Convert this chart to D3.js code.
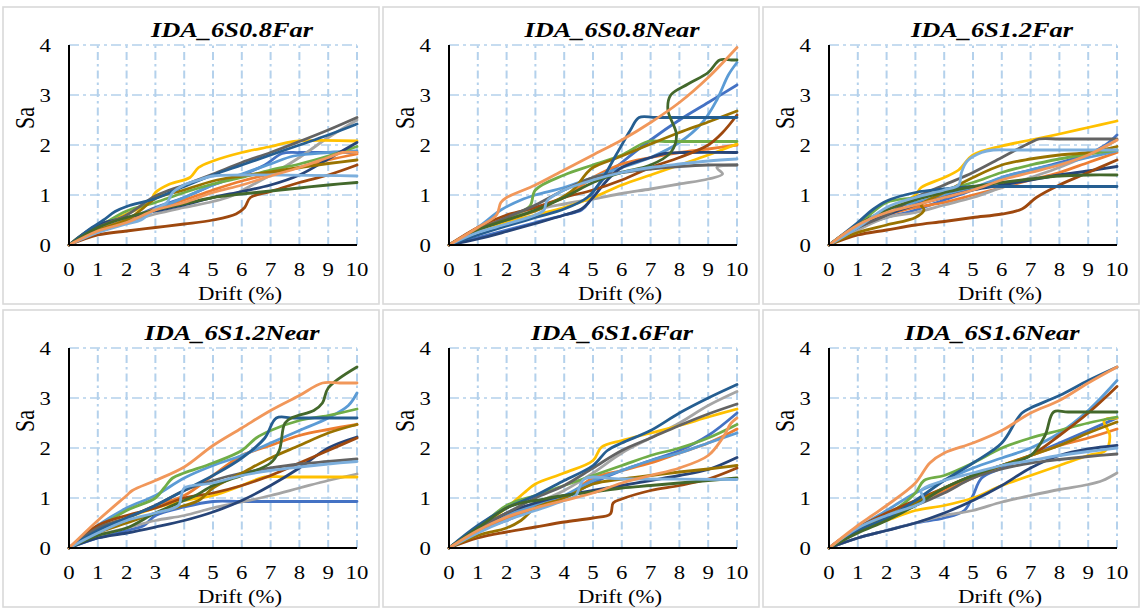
<!DOCTYPE html>
<html><head><meta charset="utf-8">
<script src="https://cdn.jsdelivr.net/npm/d3@7"></script>
<style>html,body{margin:0;padding:0;background:#fff;}svg{display:block;}</style>
</head><body>
<svg id="chart" width="1142" height="609"></svg>
<script>
// ---------- data ----------
const panelTitles = ["IDA_6S0.8Far","IDA_6S0.8Near","IDA_6S1.2Far","IDA_6S1.2Near","IDA_6S1.6Far","IDA_6S1.6Near"];
const seriesNames = ["GM1","GM2","GM3","GM4","GM5","GM6","GM7","GM8","GM9","GM10","GM11","GM12","GM13","GM14"];
const xTicks = [0,1,2,3,4,5,6,7,8,9,10];
const yTicks = [0,1,2,3,4];
const xLabel = "Drift (%)";
const yLabel = "Sa";

// each panel: one [drift, Sa] list per series, in seriesNames order
const ida6S08Far = [
 [[0,0],[1,0.3],[2,0.5],[3,0.75],[4,0.95],[5,1.2],[6,1.4],[6.8,1.6],[7.4,1.83],[8,1.85],[10,1.85]],
 [[0,0],[1,0.3],[2,0.5],[3,0.72],[4,0.9],[5,1.1],[6,1.28],[7,1.42],[8,1.55],[9,1.7],[10,1.82]],
 [[0,0],[1,0.25],[2,0.45],[3,0.62],[4,0.75],[5,0.87],[5.6,0.97],[6.2,1.15],[7,1.4],[8,1.75],[9,2.15],[10,2.5]],
 [[0,0],[0.5,0.22],[1,0.38],[2,0.62],[2.8,0.85],[3,1.05],[3.5,1.22],[4.2,1.35],[4.5,1.55],[5,1.68],[6,1.85],[7,1.97],[7.8,2.07],[10,2.08]],
 [[0,0],[1,0.28],[2,0.45],[3,0.7],[4,0.95],[5,1.2],[6,1.42],[7,1.62],[7.8,1.78],[9,1.85],[10,1.88]],
 [[0,0],[1,0.35],[2,0.68],[3,0.85],[4,1.05],[5,1.22],[6,1.35],[7,1.5],[8,1.62],[9,1.78],[10,1.97]],
 [[0,0],[1,0.4],[2,0.55],[3,0.68],[4,0.8],[5,0.95],[6,1.07],[7,1.2],[8,1.4],[9,1.72],[10,2.05]],
 [[0,0],[1,0.2],[2,0.28],[3,0.35],[4,0.42],[5,0.5],[5.8,0.62],[6.1,0.75],[6.3,0.95],[7,1.07],[8,1.25],[9,1.4],[10,1.6]],
 [[0,0],[1,0.35],[2,0.6],[3,0.98],[4,1.2],[5,1.42],[6,1.65],[7,1.85],[8,2.07],[9,2.3],[10,2.55]],
 [[0,0],[1,0.3],[2,0.5],[2.5,0.7],[3,0.93],[4,1.1],[5,1.28],[6,1.38],[7,1.46],[8,1.55],[9,1.63],[10,1.7]],
 [[0,0],[0.8,0.35],[1.2,0.5],[1.6,0.67],[2,0.77],[3,0.93],[4,1.17],[5,1.4],[6,1.6],[7,1.8],[8,2.0],[9,2.2],[10,2.42]],
 [[0,0],[1,0.35],[2,0.55],[3,0.7],[4,0.82],[5,0.95],[6,1.02],[7,1.08],[8,1.14],[9,1.2],[10,1.25]],
 [[0,0],[1,0.25],[2,0.42],[2.5,0.5],[3,0.72],[3.4,0.85],[3.6,1.05],[4,1.2],[4.5,1.3],[5,1.38],[6,1.4],[10,1.38]],
 [[0,0],[1,0.28],[2,0.45],[3,0.7],[4,0.85],[5,1.05],[6,1.2],[7,1.38],[8,1.55],[9,1.75],[9.5,1.85],[10,1.85]]
];
const ida6S08Near = [
 [[0,0],[1,0.15],[2,0.3],[3,0.45],[4,0.6],[4.6,0.7],[4.85,0.85],[5,1.05],[5.5,1.4],[6,1.65],[7,2.1],[8,2.5],[9,2.85],[10,3.2]],
 [[0,0],[1,0.3],[2,0.55],[3,0.75],[4,0.95],[5,1.35],[6,1.62],[7,1.75],[8,1.85],[9,1.92],[10,2.0]],
 [[0,0],[1,0.3],[2,0.5],[3,0.7],[4,0.82],[5,0.92],[6,1.03],[7,1.12],[8,1.22],[9,1.32],[9.5,1.42],[9.3,1.55],[10,1.6]],
 [[0,0],[1,0.28],[2,0.45],[3,0.6],[4,0.75],[5,0.95],[6,1.2],[7,1.4],[8,1.6],[9,1.8],[10,2.02]],
 [[0,0],[1,0.35],[1.8,0.7],[2.5,0.9],[3,1.0],[4,1.15],[5,1.35],[6,1.55],[7,1.75],[8,2.05],[8.8,2.45],[9.3,2.9],[9.7,3.4],[10,3.65]],
 [[0,0],[1,0.3],[2,0.55],[2.8,0.77],[3,1.1],[4,1.4],[5,1.6],[6,1.8],[6.9,2.07],[7.5,2.07],[10,2.07]],
 [[0,0],[1,0.12],[2,0.27],[3,0.43],[4,0.6],[4.6,0.72],[5,0.95],[5.5,1.3],[6,1.55],[7,1.75],[7.5,1.83],[8.2,1.85],[10,1.85]],
 [[0,0],[1,0.35],[2,0.6],[3,0.75],[4,0.95],[5,1.1],[6,1.3],[7,1.55],[8,1.75],[9,2.0],[9.5,2.25],[10,2.6]],
 [[0,0],[1,0.3],[2,0.55],[3,0.8],[4,1.1],[5,1.35],[6,1.45],[7,1.52],[8,1.57],[9,1.6],[10,1.6]],
 [[0,0],[1,0.3],[2,0.5],[3,0.68],[3.5,0.82],[4.3,1.1],[4.8,1.45],[5,1.55],[6,1.78],[7,2.02],[8,2.25],[9,2.46],[10,2.68]],
 [[0,0],[1,0.2],[2,0.38],[3,0.55],[4,0.72],[4.8,0.95],[5.3,1.3],[5.8,1.8],[6.3,2.3],[6.6,2.55],[7.2,2.55],[10,2.55]],
 [[0,0],[1,0.3],[2,0.5],[3,0.7],[4,0.95],[5,1.25],[6,1.45],[7,1.6],[7.7,1.85],[7.9,2.2],[7.6,2.7],[7.7,3.0],[8.3,3.22],[9,3.45],[9.4,3.7],[9.8,3.7],[10,3.7]],
 [[0,0],[1,0.25],[2,0.42],[3,0.6],[3.3,0.7],[3.4,0.88],[4,1.1],[5,1.3],[6,1.45],[7,1.55],[8,1.62],[9,1.68],[10,1.72]],
 [[0,0],[1,0.35],[1.65,0.6],[1.8,0.85],[2,0.95],[3,1.2],[4,1.5],[5,1.8],[6,2.1],[7,2.45],[8,2.85],[9,3.35],[10,3.95]]
];
const ida6S12Far = [
 [[0,0],[1,0.35],[2,0.55],[3,0.7],[4,0.9],[5,1.1],[6,1.35],[7,1.5],[8,1.65],[9,1.82],[9.6,2.0],[10,2.2]],
 [[0,0],[1,0.38],[2,0.6],[3,0.75],[4,0.85],[5,1.0],[6,1.15],[7,1.3],[8,1.45],[9,1.65],[10,1.85]],
 [[0,0],[1,0.3],[2,0.55],[3,0.65],[4,0.8],[5,0.95],[6,1.15],[7,1.35],[8,1.55],[9,1.8],[10,2.1]],
 [[0,0],[1,0.4],[2,0.7],[3,1.0],[3.2,1.15],[4,1.35],[4.5,1.5],[5,1.8],[6,1.98],[7,2.1],[8,2.22],[9,2.35],[10,2.48]],
 [[0,0],[1,0.4],[2,0.7],[3,0.85],[4,1.0],[5,1.15],[6,1.35],[7,1.5],[8,1.62],[9,1.75],[10,1.88]],
 [[0,0],[1,0.4],[2,0.85],[3,0.95],[4,1.1],[5,1.25],[6,1.45],[7,1.6],[8,1.72],[9,1.82],[10,1.9]],
 [[0,0],[1,0.35],[2,0.6],[3,0.8],[4,0.95],[5,1.1],[6,1.2],[7,1.3],[8,1.4],[9,1.48],[10,1.57]],
 [[0,0],[1,0.2],[2,0.3],[3,0.4],[4,0.47],[5,0.55],[6,0.62],[6.7,0.72],[7.2,0.95],[8,1.2],[9,1.45],[10,1.7]],
 [[0,0],[1,0.35],[2,0.6],[3,0.95],[4,1.2],[5,1.45],[6,1.75],[7,2.05],[7.3,2.12],[8,2.12],[10,2.12]],
 [[0,0],[1,0.25],[2,0.4],[3,0.55],[3.3,0.7],[3.2,0.8],[4,1.05],[5,1.35],[6,1.6],[7,1.72],[8,1.8],[9,1.85],[10,1.97]],
 [[0,0],[1,0.45],[1.5,0.7],[2,0.88],[3,1.05],[4,1.12],[5,1.17],[6,1.17],[10,1.17]],
 [[0,0],[1,0.4],[2,0.7],[3,0.9],[4,1.05],[5,1.17],[6,1.25],[7,1.32],[8,1.38],[9,1.4],[10,1.4]],
 [[0,0],[1,0.35],[2,0.75],[3,0.95],[4,1.1],[4.5,1.2],[4.6,1.45],[4.8,1.68],[5.3,1.85],[5.7,1.9],[6.5,1.9],[10,1.9]],
 [[0,0],[1,0.4],[2,0.65],[3,0.8],[4,0.95],[5,1.1],[6,1.3],[7,1.45],[8,1.6],[9,1.8],[10,2.1]]
];
const ida6S12Near = [
 [[0,0],[1,0.2],[2,0.35],[2.6,0.45],[3,0.65],[4,0.82],[5,0.93],[6,0.93],[10,0.93]],
 [[0,0],[1,0.4],[2,0.6],[3,0.85],[4,1.05],[5,1.45],[6,1.85],[7,2.05],[8,2.25],[9,2.37],[10,2.47]],
 [[0,0],[1,0.25],[2,0.4],[3,0.55],[4,0.65],[5,0.8],[6,0.92],[7,1.05],[8,1.2],[9,1.35],[10,1.48]],
 [[0,0],[1,0.35],[2,0.6],[3,0.8],[4,0.95],[5,1.05],[6,1.25],[6.8,1.42],[7.5,1.42],[10,1.42]],
 [[0,0],[1,0.45],[2,0.8],[3,1.05],[4,1.4],[5,1.65],[6,1.85],[7,2.1],[8,2.35],[9,2.6],[9.7,2.85],[10,3.1]],
 [[0,0],[1,0.4],[2,0.75],[3,1.0],[3.3,1.2],[3.6,1.4],[4,1.5],[5,1.7],[6,1.95],[6.5,2.2],[7,2.35],[8,2.55],[9,2.65],[10,2.78]],
 [[0,0],[1,0.2],[2,0.3],[3,0.42],[4,0.55],[5,0.72],[6,0.95],[7,1.25],[8,1.6],[9,2.0],[10,2.22]],
 [[0,0],[1,0.45],[2,0.65],[3,0.8],[4,1.0],[5,1.1],[6,1.25],[7,1.45],[8,1.7],[9,1.95],[10,2.2]],
 [[0,0],[1,0.4],[2,0.6],[3,0.85],[4,1.15],[5,1.35],[6,1.5],[7,1.6],[8,1.68],[9,1.73],[10,1.78]],
 [[0,0],[1,0.3],[2,0.5],[3,0.7],[4,0.85],[4.5,0.95],[5,1.2],[6,1.5],[7,1.8],[8,2.05],[9,2.3],[10,2.47]],
 [[0,0],[1,0.35],[2,0.6],[3,0.85],[4,1.15],[5,1.45],[6,1.8],[6.8,2.2],[7.2,2.6],[7.8,2.6],[10,2.6]],
 [[0,0],[1,0.25],[2,0.4],[3,0.7],[4,0.95],[4.4,1.05],[5,1.25],[6,1.45],[7,1.7],[7.3,1.95],[7.5,2.5],[7.8,2.62],[8.5,2.75],[8.8,2.9],[9,3.2],[10,3.62]],
 [[0,0],[1,0.3],[2,0.55],[3,0.7],[3.8,0.85],[3.9,1.05],[4,1.2],[5,1.3],[6,1.45],[7,1.55],[8,1.62],[9,1.68],[10,1.73]],
 [[0,0],[1,0.55],[2,1.05],[2.2,1.15],[3,1.35],[4,1.62],[5,2.05],[6,2.4],[7,2.75],[8,3.05],[8.8,3.3],[9.4,3.3],[10,3.3]]
];
const ida6S16Far = [
 [[0,0],[1,0.35],[2,0.55],[3,0.8],[4,1.0],[5,1.3],[6,1.55],[7,1.75],[8,1.95],[9,2.25],[10,2.7]],
 [[0,0],[1,0.35],[2,0.6],[3,0.8],[4,1.0],[5,1.4],[6,1.55],[7,1.7],[8,1.9],[9,2.1],[10,2.38]],
 [[0,0],[1,0.4],[2,0.7],[3,0.9],[4,1.15],[5,1.5],[6,1.9],[7,2.2],[8,2.5],[9,2.85],[10,3.13]],
 [[0,0],[1,0.4],[2,0.8],[2.6,1.1],[3,1.28],[4,1.5],[5,1.75],[5.3,2.02],[6,2.15],[7,2.3],[8,2.45],[9,2.62],[10,2.78]],
 [[0,0],[1,0.4],[2,0.65],[3,0.85],[4,1.05],[5,1.35],[6,1.55],[7,1.75],[8,1.9],[9,2.1],[10,2.3]],
 [[0,0],[1,0.4],[2,0.85],[3,1.05],[4,1.25],[5,1.45],[6,1.65],[7,1.85],[8,2.0],[9,2.2],[10,2.47]],
 [[0,0],[1,0.35],[2,0.7],[3,0.9],[4,1.05],[5,1.15],[6,1.25],[7,1.35],[8,1.45],[9,1.57],[10,1.81]],
 [[0,0],[1,0.2],[2,0.32],[3,0.42],[4,0.52],[5,0.6],[5.6,0.68],[5.7,0.9],[6,0.98],[7,1.15],[8,1.25],[9,1.38],[10,1.6]],
 [[0,0],[1,0.4],[2,0.7],[3,1.0],[4,1.25],[5,1.6],[6,1.95],[7,2.2],[8,2.45],[9,2.68],[10,2.88]],
 [[0,0],[1,0.25],[2,0.4],[2.5,0.55],[3,0.8],[4,1.0],[5,1.28],[6,1.38],[7,1.45],[8,1.52],[9,1.58],[10,1.65]],
 [[0,0],[1,0.45],[2,0.8],[3,1.05],[4,1.35],[5,1.65],[5.5,1.95],[6,2.1],[7,2.35],[8,2.7],[9,3.0],[10,3.27]],
 [[0,0],[1,0.4],[2,0.8],[2.5,0.9],[3,0.95],[4,1.05],[5,1.12],[6,1.2],[7,1.25],[8,1.3],[9,1.35],[10,1.4]],
 [[0,0],[1,0.3],[2,0.55],[3,0.75],[4,0.95],[4.4,1.05],[4.7,1.38],[6,1.38],[10,1.37]],
 [[0,0],[1,0.35],[2,0.62],[3,0.8],[4,0.95],[5,1.1],[6,1.3],[7,1.45],[8,1.6],[9,1.85],[9.5,2.2],[9.8,2.5],[10,2.6]]
];
const ida6S16Near = [
 [[0,0],[1,0.2],[2,0.35],[3,0.5],[4,0.6],[4.7,0.75],[5,1.05],[5.3,1.4],[6,1.6],[7,1.85],[8,2.1],[9,2.35],[10,2.6]],
 [[0,0],[1,0.4],[2,0.65],[3,0.9],[4,1.15],[5,1.4],[6,1.65],[7,1.85],[8,2.05],[9,2.2],[10,2.38]],
 [[0,0],[1,0.2],[2,0.35],[3,0.5],[4,0.65],[5,0.75],[6,0.92],[7,1.05],[8,1.17],[9,1.27],[9.5,1.35],[10,1.5]],
 [[0,0],[1,0.35],[2,0.55],[3,0.75],[4,0.85],[5,1.0],[6,1.25],[7,1.45],[8,1.65],[9,1.85],[9.6,1.95],[9.75,2.25],[9.55,2.55],[10,2.6]],
 [[0,0],[1,0.4],[2,0.75],[3,1.1],[4,1.35],[5,1.6],[6,1.8],[7,2.0],[8,2.3],[9,2.75],[10,3.35]],
 [[0,0],[1,0.35],[2,0.65],[3,1.1],[3.3,1.35],[4,1.45],[5,1.7],[6,2.0],[7,2.2],[8,2.35],[9,2.5],[10,2.62]],
 [[0,0],[1,0.2],[2,0.35],[3,0.5],[4,0.7],[5,0.95],[6,1.25],[7,1.6],[8,1.85],[9,1.98],[10,2.05]],
 [[0,0],[1,0.4],[2,0.7],[3,0.95],[4,1.2],[5,1.45],[6,1.65],[7,1.85],[8,2.25],[9,2.7],[10,3.23]],
 [[0,0],[1,0.4],[2,0.65],[3,0.85],[4,1.1],[5,1.4],[6,1.58],[7,1.7],[8,1.77],[9,1.83],[10,1.88]],
 [[0,0],[1,0.35],[2,0.6],[3,0.9],[4,1.2],[5,1.45],[6,1.65],[7,1.85],[8,2.05],[9,2.3],[10,2.52]],
 [[0,0],[1,0.35],[2,0.6],[3,0.95],[4,1.35],[5,1.7],[6,2.1],[6.5,2.55],[6.7,2.7],[7,2.8],[8,3.05],[9,3.35],[10,3.62]],
 [[0,0],[1,0.3],[2,0.55],[3,0.85],[4,1.2],[5,1.45],[6,1.65],[7,1.85],[7.5,2.25],[7.8,2.72],[8.3,2.72],[10,2.72]],
 [[0,0],[1,0.4],[2,0.65],[3,0.85],[3.3,0.95],[3.2,1.15],[4,1.35],[5,1.5],[6,1.65],[7,1.75],[8,1.85],[9,1.93],[10,2.0]],
 [[0,0],[1,0.45],[1.5,0.65],[2,0.85],[3,1.3],[3.5,1.7],[4,1.9],[5,2.1],[6,2.35],[7,2.7],[8,2.95],[9,3.3],[10,3.62]]
];
const panelData = [ida6S08Far, ida6S08Near, ida6S12Far, ida6S12Near, ida6S16Far, ida6S16Near];

// ---------- style ----------
const palette = ["#4472C4","#ED7D31","#A5A5A5","#FFC000","#5B9BD5","#70AD47","#264478","#9E480E","#636363","#997300","#255E91","#43682B","#7CAFDD","#F1975A"];
const serif = "'Liberation Serif','Times New Roman',Times,serif";
const SX = 1.2; // horizontal stretch of the original picture

const svg = d3.select("#chart");
const colW = 380, rowH = 303;

panelData.forEach((series, i) => {
  const c = i % 3, r = Math.floor(i / 3);
  const ox = c * colW, oy = r * rowH;
  const g = svg.append("g").attr("transform", `translate(${ox},${oy})`);

  // frame
  g.append("rect").attr("x", 3).attr("y", 7).attr("width", 376).attr("height", 297)
    .attr("fill", "none").attr("stroke", "#d9d9d9").attr("stroke-width", 1.6);

  const x = d3.scaleLinear().domain([0, 10]).range([69, 357]);
  const y = d3.scaleLinear().domain([0, 4]).range([245, 45]);

  // gridlines
  const grid = g.append("g");
  grid.selectAll("line.v").data(xTicks.filter(t => t > 0)).join("line")
    .attr("x1", d => x(d)).attr("x2", d => x(d)).attr("y1", y(0)).attr("y2", y(4))
    .attr("stroke", "#B4D1EC").attr("stroke-width", 2).attr("stroke-dasharray", "8,4,2.5,4");
  grid.selectAll("line.h").data(yTicks.filter(t => t > 0)).join("line")
    .attr("x1", x(0)).attr("x2", x(10)).attr("y1", d => y(d)).attr("y2", d => y(d))
    .attr("stroke", "#B4D1EC").attr("stroke-width", 1.3).attr("stroke-dasharray", "10,4,3,4");

  // curves
  const clipId = "clip" + i;
  g.append("clipPath").attr("id", clipId).append("rect")
    .attr("x", x(0) - 3).attr("y", y(4) - 4).attr("width", x(10) - x(0) + 6).attr("height", y(0) - y(4) + 6);
  const line = d3.line().x(d => x(d[0])).y(d => y(d[1])).curve(d3.curveCatmullRom.alpha(0.5));
  g.append("g").attr("clip-path", `url(#${clipId})`)
    .selectAll("path").data(series).join("path")
    .attr("d", line).attr("fill", "none")
    .attr("stroke", (d, k) => palette[k]).attr("stroke-width", 2.8)
    .attr("stroke-linejoin", "round").attr("stroke-linecap", "round");

  // axes lines (black)
  g.append("line").attr("x1", x(0)).attr("x2", x(0)).attr("y1", y(0)).attr("y2", y(4))
    .attr("stroke", "#000").attr("stroke-width", 2);
  g.append("line").attr("x1", x(0)).attr("x2", x(10)).attr("y1", y(0)).attr("y2", y(0))
    .attr("stroke", "#000").attr("stroke-width", 2);

  // tick labels
  g.selectAll("text.yt").data(yTicks).join("text").attr("class", "yt")
    .attr("transform", d => `translate(51,${y(d) + 6.5}) scale(${SX},1)`)
    .attr("text-anchor", "end").attr("font-family", serif).attr("font-size", 19).attr("fill", "#000")
    .text(d => d);
  g.selectAll("text.xt").data(xTicks).join("text").attr("class", "xt")
    .attr("transform", d => `translate(${x(d)},276) scale(${SX},1)`)
    .attr("text-anchor", "middle").attr("font-family", serif).attr("font-size", 19).attr("fill", "#000")
    .text(d => d);

  // axis titles
  g.append("text").attr("transform", `translate(240,300) scale(${SX},1)`)
    .attr("text-anchor", "middle").attr("font-family", serif).attr("font-size", 19).text(xLabel);
  g.append("text").attr("transform", `translate(34,118) scale(${SX},1) rotate(-90)`)
    .attr("text-anchor", "middle").attr("font-family", serif).attr("font-size", 22).text(yLabel);

  // panel title
  g.append("text").attr("transform", `translate(232,37) scale(${SX},1)`)
    .attr("text-anchor", "middle").attr("font-family", serif).attr("font-size", 22)
    .attr("font-weight", "bold").attr("font-style", "italic").text(panelTitles[i]);
});
</script>
</body></html>
